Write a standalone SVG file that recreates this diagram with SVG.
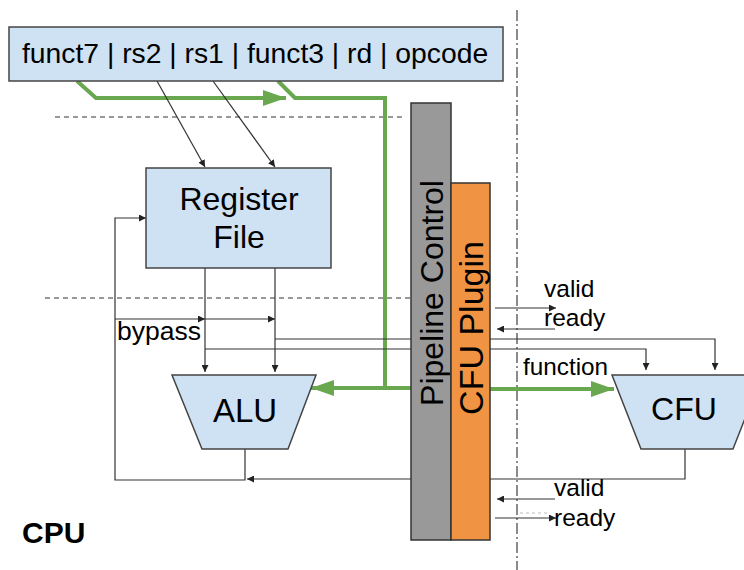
<svg xmlns="http://www.w3.org/2000/svg" width="744" height="570" viewBox="0 0 744 570">
<defs>
<style>
.t{font-family:"Liberation Sans",Arial,sans-serif;fill:#000}
.box{fill:#cfe2f3;stroke:#444;stroke-width:1.5}
.w{fill:none;stroke:#333;stroke-width:1.2}
.g{fill:none;stroke:#6aa84f;stroke-width:4}
.dash{fill:none;stroke:#333;stroke-width:1;stroke-dasharray:5 4}
</style>
<marker id="a" viewBox="0 0 10 10" refX="10" refY="5" markerWidth="7" markerHeight="7" markerUnits="userSpaceOnUse" orient="auto"><path d="M0,0 L10,5 L0,10 z" fill="#222"/></marker>
<marker id="ga" viewBox="0 0 10 10" refX="10" refY="5" markerWidth="23" markerHeight="16" markerUnits="userSpaceOnUse" orient="auto" preserveAspectRatio="none"><path d="M0,0 L10,5 L0,10 z" fill="#6aa84f"/></marker>
</defs>
<rect width="744" height="570" fill="#fff"/>

<!-- stage boundaries -->
<line class="dash" x1="55" y1="117" x2="402" y2="117"/>
<line class="dash" x1="45" y1="298" x2="411" y2="298"/>
<line x1="517" y1="10" x2="517" y2="570" stroke="#666" stroke-width="1.5" stroke-dasharray="11 3 2 3"/>

<g id="connectors">
<path class="g" d="M77,81 L96,98 L286,98" marker-end="url(#ga)"/>
<path class="g" d="M278,81 L295,98 L385,98 L385,388"/>
<path class="g" d="M411,388 L311,388" marker-end="url(#ga)"/>
<path class="g" d="M490,389 L614,389" marker-end="url(#ga)"/>
<path class="w" d="M157,81 L205,167" marker-end="url(#a)"/>
<path class="w" d="M213,81 L275,167" marker-end="url(#a)"/>
<path class="w" d="M205,268 L205,372" marker-end="url(#a)"/>
<path class="w" d="M275,268 L275,372" marker-end="url(#a)"/>
<path class="w" d="M115,319 L205,319" marker-end="url(#a)"/>
<path class="w" d="M205,319 L275,319" marker-end="url(#a)"/>
<path class="w" d="M275,339 L411,339"/>
<path class="w" d="M205,349 L411,349"/>
<path class="w" d="M490,339 L715,339 L715,370" marker-end="url(#a)"/>
<path class="w" d="M490,349 L646,349 L646,370" marker-end="url(#a)"/>
<path class="w" d="M245,449 L245,480 L115,480 L115,218 L146,218" marker-end="url(#a)"/>
<path class="w" d="M411,479 L247,479" marker-end="url(#a)"/>
<path class="w" d="M685,449 L685,479 L490,479"/>
<path class="w" d="M495,308 L556,308" marker-end="url(#a)"/>
<path class="w" d="M555,329 L497,329" marker-end="url(#a)"/>
<path class="w" d="M555,499 L497,499" marker-end="url(#a)"/>
<path class="w" d="M495,518 L556,518" marker-end="url(#a)"/>
<line x1="520" y1="513" x2="548" y2="513" stroke="#bbb" stroke-width="1" stroke-dasharray="3 3"/>
</g>

<g id="instruction">
<rect class="box" x="9" y="27" width="494" height="54"/>
<text class="t" x="22" y="63" font-size="28.3">funct7 | rs2 | rs1 | funct3 | rd | opcode</text>
</g>

<g id="register-file">
<rect class="box" x="146" y="168" width="185" height="100"/>
<text class="t" x="239" y="210" font-size="32" text-anchor="middle">Register</text>
<text class="t" x="239" y="248" font-size="32" text-anchor="middle">File</text>
</g>

<g id="alu">
<polygon class="box" points="172,375 316,375 288,449 202,449"/>
<text class="t" x="245" y="422" font-size="33" text-anchor="middle">ALU</text>
</g>

<g id="pipeline-control">
<rect x="411" y="103" width="40" height="437" fill="#999" stroke="#333" stroke-width="1.5"/>
<text class="t" transform="translate(443,293) rotate(-90)" font-size="32" text-anchor="middle">Pipeline Control</text>
</g>

<g id="cfu-plugin">
<rect x="451" y="183" width="39" height="357" fill="#f09443" stroke="#333" stroke-width="1.5"/>
<text class="t" transform="translate(483,328) rotate(-90)" font-size="34" text-anchor="middle">CFU Plugin</text>
</g>

<g id="cfu">
<polygon class="box" points="612,375 762,375 733,449 641,449"/>
<text class="t" x="684" y="420" font-size="32" text-anchor="middle">CFU</text>
</g>

<g id="labels">
<text class="t" x="117" y="340" font-size="26.5">bypass</text>
<text class="t" x="544" y="297" font-size="24.5">valid</text>
<text class="t" x="544" y="326" font-size="24.5">ready</text>
<text class="t" x="523" y="375" font-size="24.3">function</text>
<text class="t" x="554" y="496" font-size="24.5">valid</text>
<text class="t" x="554" y="526" font-size="24.5">ready</text>
<text class="t" x="22" y="543" font-size="30" font-weight="bold">CPU</text>
</g>
</svg>
